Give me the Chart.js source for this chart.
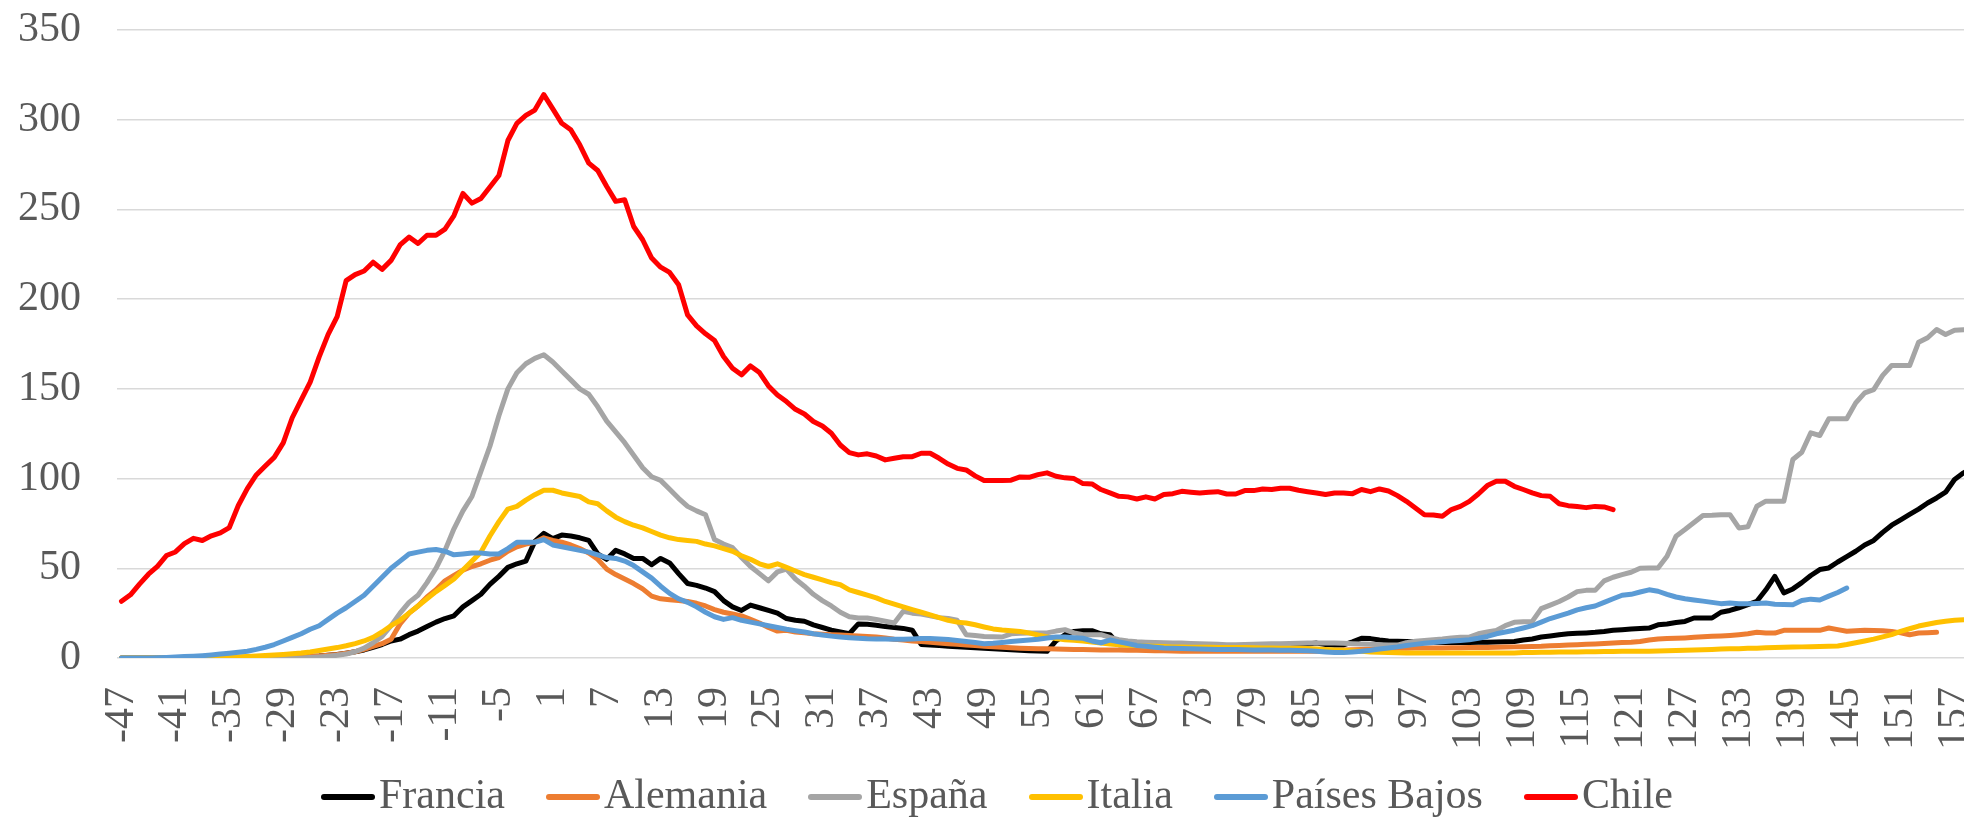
<!DOCTYPE html>
<html>
<head>
<meta charset="utf-8">
<script src="https://cdn.jsdelivr.net/npm/chart.js@4.4.0/dist/chart.umd.min.js"></script>
<style>
html,body{margin:0;padding:0;background:#fff;overflow:hidden;width:1964px;height:819px;}
#wrap{position:relative;width:2004px;height:819px;}
canvas{display:block;}
#legend{position:absolute;left:321px;top:770px;display:flex;align-items:center;gap:41px;font-family:'Liberation Serif','Times New Roman',serif;font-size:42px;line-height:48px;color:#595959;white-space:nowrap;}
.item{display:flex;align-items:center;}
.mk{width:54px;height:6px;border-radius:3px;margin-right:4px;position:relative;top:3px;}
</style>
</head>
<body>
<div id="wrap"><canvas id="c" width="2004" height="819"></canvas><div id="legend"></div></div>
<script>
// Categories: days relative to peak
const days = [];
for (let d = -47; d <= 161; d++) days.push(d);
// Tick labels shown on the x axis
const xTickLabels = days.filter(d => (d + 47) % 6 === 0);
const yTicks = [0, 50, 100, 150, 200, 250, 300, 350];

const francia = [
0,0,0,0,0,0,0,0,0,0,
0,0,0,0,0,0.1,0.2,0.3,0.4,0.5,
0.7,0.9,1.1,1.5,2,2.7,3.5,4.5,6,7.5,
9.5,10.5,13,15,17.5,20,22,23.5,28.5,32,
35.5,41,45.5,50.5,52.5,54,65,69.5,66.5,68.5,
68,67,65.5,58,55,60,58,55.5,55.5,52,
55.5,53,47,41.5,40.5,39,37,32,28.5,26.5,
29.5,28,26.5,25,22,21,20.5,18.5,17,15.5,
14.5,13.5,19,18.8,18.3,17.5,17,16.5,15.5,7.5,
7.2,6.9,6.6,6.3,6,5.7,5.4,5.1,4.9,4.6,
4.3,4.1,3.9,3.7,9.5,13,14.8,15.2,15.2,13.5,
13,7.4,7.4,7.3,7.2,7.1,7,7,6.9,6.8,
6.7,6.6,6.6,6.5,6.5,6.6,6.7,6.8,6.9,7,
7.2,7.4,7.8,8.3,7.5,7.2,7.3,9,11,10.8,
10,9.5,9.3,9.2,9,8.8,8.7,8.6,8.6,8.7,
8.7,8.8,8.8,8.9,9,9.2,10,10.6,11.7,12.3,
13,13.5,13.8,14,14.3,14.8,15.5,15.8,16.2,16.4,
16.7,18.5,19,19.8,20.4,22.3,22.3,22.3,25.5,26.5,
28,29.7,31.6,38,45.5,36.3,38.5,42,46,49.3,
50.2,53.5,56.5,59.5,63,65.5,70,74,77,80,
83,86.4,89.2,92.4,99.5,103.2,106
];

const alemania = [
0,0,0,0,0,0,0,0,0,0,
0,0,0,0,0,0.1,0.2,0.3,0.4,0.5,
0.6,0.8,1.1,1.5,2,2.7,3.5,4.8,6.5,8,
10.5,19,25,29,34,38,43,46,49,51,
52.5,54.5,56,59.5,62,63.5,64.5,67,65.5,64.5,
63,61,58.5,55,49.5,46.5,44,41.5,38.5,34.5,
33,32.5,32,31.5,30.5,29,27,25.5,24.5,23.5,
21.5,19.5,17,15,15.5,14.5,14,13.5,13.2,13,
12.8,12.5,12.2,12,11.7,11.2,10.5,10,9.5,9.2,
8.8,8.4,8,7.6,7.3,7,6.6,6.3,6,5.7,
5.5,5.3,5.2,5.1,5,4.9,4.8,4.7,4.6,4.5,
4.5,4.4,4.3,4.3,4.2,4.1,4,3.9,3.8,3.7,
3.7,3.7,3.7,3.7,3.7,3.7,3.7,3.7,3.7,3.7,
3.7,3.7,3.7,3.8,4,4.2,4.4,4.6,4.7,4.9,
5,5.2,5.4,5.5,5.6,5.6,5.6,5.6,5.7,5.7,
5.8,5.8,5.9,6,6.1,6.2,6.3,6.4,6.5,6.8,
7,7.2,7.4,7.6,7.8,8.1,8.4,8.6,8.8,9.2,
10,10.6,10.8,11,11.2,11.5,11.8,12.1,12.3,12.6,
13,13.5,14.3,14,13.9,15.4,15.4,15.4,15.4,15.4,
16.7,15.8,14.9,15.2,15.4,15.3,15.2,14.8,14,13,
13.9,14.1,14.3
];

const espana = [
0,0,0,0,0,0,0,0,0,0,
0,0,0,0,0,0,0,0,0,0,
0,0.3,0.6,1,1.5,2.2,3.5,5.5,8.5,12,
18,25,31,35,42,50,60,72,82,90,
104,118,135,150,159,164,167,169,165,160,
155,150,147,140,132,126,120,113,106,101,
99,94,89,84.5,82,79.8,66,63.5,61.5,56,
51,47,43,48,49.5,44,40,35.5,32,29,
25.5,23,22.3,22.3,21.5,20.5,19.5,26,25,24.5,
23.5,22.5,22,21,13,12.5,12,11.8,11.7,13.5,
13.8,13.9,13.9,14,15,15.8,14,13,13,13,
11.5,10.2,9.5,9,8.8,8.7,8.5,8.4,8.3,8.1,
8,7.8,7.6,7.4,7.4,7.5,7.6,7.8,7.9,8,
8.1,8.2,8.3,8.3,8.3,8.3,8.2,8,7.8,7.6,
7.4,7.2,7.2,8.5,9.3,9.8,10.2,10.6,11.2,11.5,
11.7,13.5,14.5,15.4,18,19.9,20.2,20.4,27.5,29.5,
31.5,34,37,37.7,37.7,43,45,46.5,47.8,50,
50.2,50.2,56.7,67.9,71.6,75.5,79.4,79.5,79.8,79.9,
72.5,73.1,84.6,87.4,87.4,87.4,110.6,114.7,125.5,124,
133.3,133.3,133.3,142.2,147.8,149.6,157.5,163,163,163,
176,178.5,183.1,180.3,182.7,183,183
];

const italia = [
0,0,0,0,0,0,0,0,0,0,
0.2,0.3,0.5,0.7,0.9,1.1,1.4,1.7,2,2.4,
2.8,3.4,4.2,5,5.8,6.8,8,9.5,11.5,14.5,
18,21,25,29,33,37,40.5,44,49,54,
59,68,76,83,84.5,88,91,93.5,93.5,92,
91,90,87,86,82,78.5,76,74,72.5,70.5,
68.5,67,66,65.5,65,63.5,62.5,61,59.5,57,
55,52.5,51,52.5,50.5,48.5,46.5,45,43.5,42,
40.8,38,36.5,35,33.5,31.5,30,28.5,27,25.5,
24,22.5,21,20,19.5,18.5,17.3,16.2,15.6,15.2,
14.8,14,12.8,11.8,10.8,10.2,9.9,9.4,8.9,8.3,
7.8,7.4,7.1,6.9,6.7,6.5,6.4,6.2,6.1,6,
6,6,5.9,5.9,5.9,5.8,5.7,5.6,5.6,5.5,
5.5,5.5,5.3,5,4.8,4.5,4.3,4,3.7,3.4,
3.2,3,2.9,2.8,2.8,2.8,2.8,2.8,2.8,2.8,
2.8,2.8,2.8,2.8,2.8,2.8,3.1,3.1,3.2,3.2,
3.3,3.4,3.4,3.5,3.5,3.6,3.6,3.7,3.7,3.8,
3.8,3.9,4,4.2,4.3,4.5,4.6,4.8,5,5.1,
5.2,5.4,5.5,5.7,5.8,6,6.1,6.2,6.3,6.4,
6.5,6.7,7.5,8.5,9.5,10.5,11.8,13,14.8,16.3,
17.8,18.8,19.8,20.5,21,21.3,21.5
];

const paisesBajos = [
0,0,0,0,0.2,0.3,0.5,0.8,1,1.3,
1.7,2.2,2.7,3.2,3.8,4.8,6,7.5,9.5,11.5,
13.5,16,18,21.5,25,28,31.5,35,40,45,
50,54,58,59,60,60.5,59.5,57.5,58,58.5,
58.5,58,58,61,64.5,64.5,64.5,66,63,62,
61,60,59,57.5,56,55.5,54,51.5,48,44.5,
40,36,33,31,28.5,25.5,23,21.5,22.5,21,
20,19,18,17,16,15.2,14.5,13.5,12.8,12.2,
11.7,11.3,11,10.7,10.6,10.6,10.5,10.5,10.6,10.8,
10.8,10.6,10.3,9.8,9.2,8.6,8,8.2,8.7,9.2,
9.6,10,10.5,11.2,11.7,11.7,11.3,11,9.5,8.5,
10,9,8,7,6.5,6,5.6,5.5,5.3,5.2,
5,4.9,4.8,4.8,4.7,4.6,4.5,4.5,4.4,4.3,
4.3,4.2,4,3.7,3.3,3,3,3.4,3.8,4.3,
5,5.6,6.2,7,7.6,8.2,8.7,9.1,9.5,9.8,
10.2,11,12,13.5,14.5,15.5,16.7,18,20,22,
23.5,25,26.8,28,29,31,33,35,35.5,36.8,
38,37.2,35.5,34,33,32.3,31.7,31,30.3,30.6,
30.3,30.3,30.4,30.6,30,29.8,29.7,32,32.8,32.3,
34.5,36.5,39
];

const chile = [
31.6,35.2,41.2,46.7,51.1,57.1,59.1,63.7,66.7,65.5,
68.1,69.7,72.7,85,94.4,102,107,111.8,119.9,133.9,
143.9,153.8,167.8,180.4,190.3,210.3,213.7,215.7,220.6,216.6,
221.6,230.2,234.6,231,235.6,235.6,239,246.6,258.9,253.5,
256.1,262.5,268.9,288.4,298,302.4,305.4,314,306,298,
294.4,286,275.8,271.7,262.8,254.5,255.4,240.5,233.1,222.9,
217.8,214.9,208,191.2,185.1,180.7,176.9,168,161.5,157.8,
162.8,159.1,151.6,146.6,142.9,138.6,136,131.8,129.3,125.3,
118.7,114.5,113.2,113.8,112.6,110.4,111.3,112.2,112.2,114.1,
114.1,111.3,108.1,105.7,104.8,101.5,98.9,98.9,98.9,99.1,
100.9,100.7,102.2,103.2,101.3,100.4,100,97.2,97,93.9,
92,90.1,89.8,88.6,89.8,88.6,91.1,91.6,92.9,92.4,
92,92.4,92.7,91.4,91.4,93.3,93.3,94.2,93.9,94.6,
94.6,93.5,92.7,92,91.1,92,92,91.6,93.9,92.7,
94.2,93.1,90.5,87.3,83.6,79.9,79.7,79,82.7,84.5,
87.3,91.4,96.1,98.5,98.5,95.7,93.9,92,90.5,90.1,
86,84.9,84.4,83.8,84.5,84.2,82.7
];

const seriesNames = ['Francia', 'Alemania', 'España', 'Italia', 'Países Bajos', 'Chile'];
const seriesColors = ['#000000', '#ED7D31', '#A5A5A5', '#FFC000', '#5B9BD5', '#FF0000'];
const seriesValues = [francia, alemania, espana, italia, paisesBajos, chile];

const FONT = "'Liberation Serif', 'Times New Roman', serif";
const TEXT = '#595959';

const datasets = seriesNames.map((name, k) => ({
  label: name,
  data: seriesValues[k],
  borderColor: seriesColors[k],
  backgroundColor: seriesColors[k],
  borderWidth: 5,
  pointRadius: 0,
  pointHoverRadius: 0,
  tension: 0,
  fill: false,
  borderJoinStyle: 'round',
  borderCapStyle: 'round',
  order: seriesNames.length - k
}));

new Chart(document.getElementById('c'), {
  type: 'line',
  data: { labels: days, datasets },
  options: {
    responsive: false,
    animation: false,
    devicePixelRatio: 1,
    layout: { padding: { top: 30, right: 9, bottom: 69, left: 0 } },
    plugins: { legend: { display: false }, tooltip: { enabled: false } },
    scales: {
      x: {
        offset: true,
        grid: { display: false, drawTicks: false },
        border: { display: false },
        ticks: {
          autoSkip: false, maxRotation: 90, minRotation: 90, padding: 29,
          color: TEXT, font: { family: FONT, size: 42 },
          callback: function (v, i) { return xTickLabels.includes(days[i]) ? String(days[i]) : null; }
        },
        afterFit: s => { s.height = 92; s.paddingLeft = 0; s.paddingRight = 0; s.paddingTop = 0; s.paddingBottom = 0; }
      },
      y: {
        min: 0, max: 350,
        afterBuildTicks: s => { s.ticks = yTicks.map(v => ({ value: v })); },
        grid: { color: '#D9D9D9', lineWidth: 1.5, drawTicks: false },
        border: { display: false },
        ticks: { padding: 36, color: TEXT, font: { family: FONT, size: 42 } },
        afterFit: s => { s.width = 117; s.paddingTop = 0; s.paddingBottom = 0; s.paddingLeft = 0; s.paddingRight = 0; }
      }
    }
  }
});

// Legend (real text)
const legend = document.getElementById('legend');
seriesNames.forEach((name, k) => {
  const item = document.createElement('div');
  item.className = 'item';
  const mk = document.createElement('span');
  mk.className = 'mk';
  mk.style.background = seriesColors[k];
  const tx = document.createElement('span');
  tx.textContent = name;
  item.appendChild(mk);
  item.appendChild(tx);
  legend.appendChild(item);
});
</script>
</body>
</html>
